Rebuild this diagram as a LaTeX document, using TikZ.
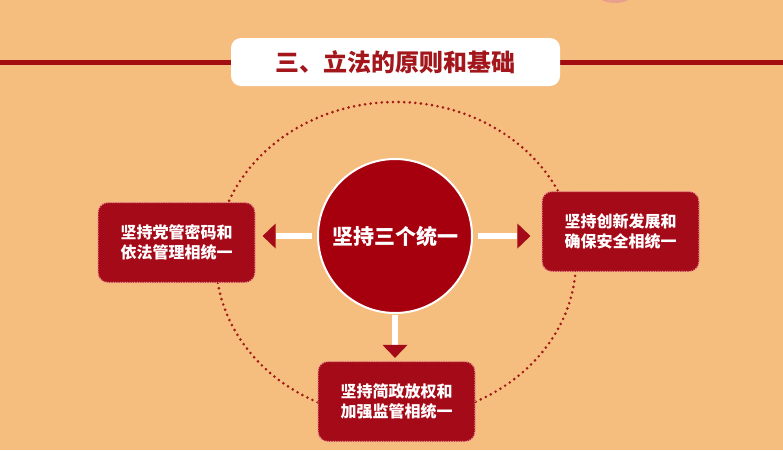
\documentclass[tikz,border=0pt]{standalone}
\usepackage{fontspec}
\setmainfont{Noto Sans CJK SC}[BoldFont={Noto Sans CJK SC Black}]
\usetikzlibrary{arrows.meta}
\definecolor{bg}{HTML}{F6BE7E}
\definecolor{darkred}{HTML}{A30D12}
\definecolor{titlered}{HTML}{A3171C}
\definecolor{boxred}{HTML}{A50A18}
\definecolor{circred}{HTML}{A6000F}
\definecolor{dotred}{HTML}{A01A18}
\definecolor{boxborder}{HTML}{E89090}
\definecolor{blob}{HTML}{E9A08E}
\tikzset{
  boxnode/.style={draw=boxborder, fill=boxred, rounded corners=10pt,
    dash pattern=on 1.2pt off 1.2pt, line width=1.2pt,
    minimum width=157pt, minimum height=80pt, align=center, text=white,
    font=\fontsize{16}{20}\selectfont\bfseries},
  ring/.style={draw=dotred, line width=2.9pt, line cap=round, dash pattern=on 0pt off 5.6pt},
  flow/.style={draw=white, line width=6pt,
    -{Triangle[color=boxred, length=13pt, width=25pt, line width=0pt]}},
}
\begin{document}
\begin{tikzpicture}[x=1pt,y=-1pt]
\useasboundingbox (0,0) rectangle (783,450);
\clip (0,0) rectangle (783,450);
\fill[bg] (0,0) rectangle (783,450);
% top blob
\fill[blob] (615,-7) ellipse [x radius=19pt, y radius=10pt];
% header line and title
\fill[darkred] (0,59.5) rectangle (783,64.5);
\node[fill=white, rounded corners=10pt, minimum width=329pt, minimum height=48pt,
  text=titlered, font=\fontsize{24}{28}\selectfont\bfseries] (title) at (395.5,62) {三、立法的原则和基础};
% dotted ring
\draw[ring] (396,260) ellipse [x radius=180pt, y radius=158pt];
% central circle
\node[circle, fill=circred, draw=white, line width=2pt, minimum size=154pt, inner sep=0pt,
  text=white, font=\fontsize{21}{24}\selectfont\bfseries] (c) at (395,236) {坚持三个统一};
% boxes
\node[boxnode] (l) at (176.5,242.5) {坚持党管密码和\\依法管理相统一};
\node[boxnode] (r) at (620.5,231.5) {坚持创新发展和\\确保安全相统一};
\node[boxnode] (b) at (396.5,401.5) {坚持简政放权和\\加强监管相统一};
% arrows
\draw[flow, shorten <=5pt, shorten >=7pt] (c.west) -- (c.west -| l.east);
\draw[flow, shorten <=5pt, shorten >=11pt] (c.east) -- (c.east -| r.west);
\draw[flow, shorten <=1pt, shorten >=3pt] (c.south) -- (c.south |- b.north);
\end{tikzpicture}
\end{document}
